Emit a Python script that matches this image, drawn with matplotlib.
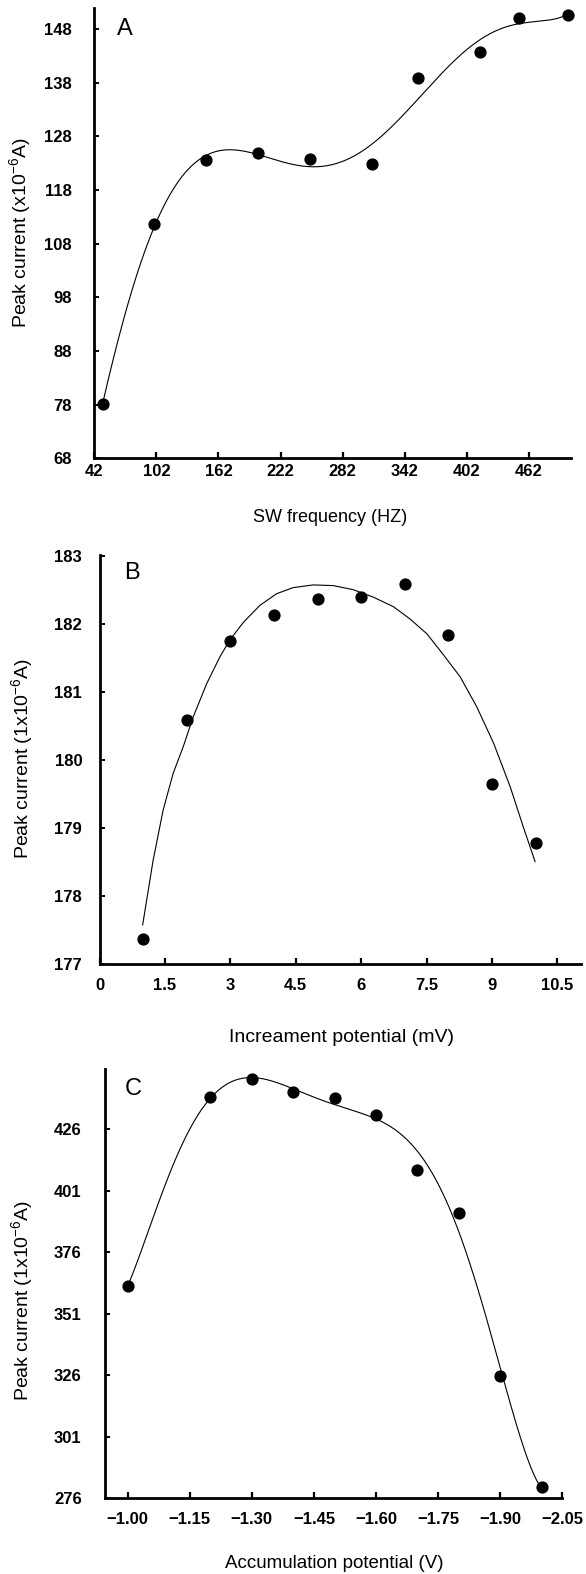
import numpy as np
import matplotlib
matplotlib.use("Agg")
import matplotlib.pyplot as plt

plt.rcParams['font.family'] = ['Liberation Sans', 'DejaVu Sans']
plt.rcParams['mathtext.default'] = 'regular'

# ---------------- data ----------------
# Panel A: SW frequency
freq_a = [50, 100, 150, 200, 250, 310, 355, 415, 452, 500]
current_a = [78.1, 111.6, 123.6, 125.0, 123.8, 122.8, 138.9, 143.7, 150.1, 150.7]
xticks_a = [42, 102, 162, 222, 282, 342, 402, 462]
yticks_a = [68, 78, 88, 98, 108, 118, 128, 138, 148]

# Panel B: increment potential
incr_b = [1, 2, 3, 4, 5, 6, 7, 8, 9, 10]
current_b = [177.37, 180.59, 181.76, 182.14, 182.37, 182.40, 182.60, 181.84, 179.65, 178.79]
# fitted curve
curve_x_b = [0.99, 1.23, 1.46, 1.69, 1.92, 2.15, 2.46, 2.76, 2.99, 3.30, 3.68,
             4.06, 4.44, 4.90, 5.36, 5.82, 6.28, 6.74, 7.12, 7.51, 7.89, 8.27,
             8.65, 9.04, 9.42, 9.72, 9.99]
curve_y_b = [177.58, 178.53, 179.27, 179.81, 180.20, 180.64, 181.13, 181.52,
             181.77, 182.03, 182.28, 182.45, 182.54, 182.58, 182.57, 182.51,
             182.40, 182.26, 182.08, 181.86, 181.55, 181.23, 180.79, 180.25,
             179.61, 179.02, 178.51]
xticks_b = [0, 1.5, 3, 4.5, 6, 7.5, 9, 10.5]
xticklabels_b = ["0", "1.5", "3", "4.5", "6", "7.5", "9", "10.5"]
yticks_b = [177, 178, 179, 180, 181, 182, 183]

# Panel C: accumulation potential
accum_c = [-1.0, -1.2, -1.3, -1.4, -1.5, -1.6, -1.7, -1.8, -1.9, -2.0]
current_c = [362.1, 439.1, 446.3, 440.9, 438.6, 431.8, 409.5, 391.8, 325.8, 280.5]
xticks_c = [-1.00, -1.15, -1.30, -1.45, -1.60, -1.75, -1.90, -2.05]
yticks_c = [276, 301, 326, 351, 376, 401, 426]

W, H = 586, 1574
fig = plt.figure(figsize=(W / 100, H / 100), dpi=100)


def px_axes(l, r, t, b):
    return fig.add_axes([l / W, 1 - b / H, (r - l) / W, (b - t) / H])


def style(ax, xpad, ypad):
    for s in ('top', 'right'):
        ax.spines[s].set_visible(False)
    for s in ('left', 'bottom'):
        ax.spines[s].set_linewidth(2.0)
    ax.tick_params(axis='x', direction='in', length=4.5, width=1.6,
                   labelsize=12, pad=xpad)
    ax.tick_params(axis='y', direction='in', length=3.5, width=1.4,
                   labelsize=12, pad=ypad)
    for lab in ax.get_xticklabels() + ax.get_yticklabels():
        lab.set_fontweight('bold')


def dots(ax, x, y):
    ax.plot(x, y, 'o', color='black', ms=7.8, zorder=3, clip_on=False)


def trend(ax, x, y, deg):
    coef = np.polyfit(x, y, deg)
    xs = np.linspace(min(x), max(x), 300)
    ax.plot(xs, np.polyval(coef, xs), color='black', lw=0.8, zorder=2)


# ---------------- Panel A ----------------
axA = px_axes(94.3, 570.7, 8.3, 458.3)
trend(axA, freq_a, current_a, 6)
dots(axA, freq_a, current_a)
axA.set_xlim(42, 502.4)
axA.set_ylim(68, 151.9)
axA.set_xticks(xticks_a)
axA.set_yticks(yticks_a)
style(axA, 4, 16)

# ---------------- Panel B ----------------
axB = px_axes(99.5, 581.3, 555, 964.3)
axB.plot(curve_x_b, curve_y_b, color='black', lw=0.8, zorder=2)
dots(axB, incr_b, current_b)
axB.set_xlim(0, 11.05)
axB.set_ylim(177, 183.02)
axB.set_xticks(xticks_b)
axB.set_xticklabels(xticklabels_b)
axB.set_yticks(yticks_b)
style(axB, 10, 12.5)

# ---------------- Panel C ----------------
axC = px_axes(105.3, 562.3, 1069, 1498.3)
trend(axC, accum_c, current_c, 6)
dots(axC, accum_c, current_c)
axC.set_xlim(-0.946, -2.05)
axC.set_ylim(276, 450.4)
axC.set_xticks(xticks_c)
axC.set_xticklabels(["\u2212%.2f" % abs(v) for v in xticks_c])
axC.set_yticks(yticks_c)
style(axC, 10, 17)


def ftext(x, y, s, **kw):
    fig.text(x / W, 1 - y / H, s, ha='center', va='center', **kw)


ftext(125, 29.3, 'A', fontsize=17)
ftext(131.7, 573.3, 'B', fontsize=17)
ftext(133.3, 1089, 'C', fontsize=17)

ftext(20, 233, r'Peak current (x10$^{-6}$A)', rotation=90, fontsize=14)
ftext(21.7, 758, r'Peak current (1x10$^{-6}$A)', rotation=90, fontsize=14)
ftext(21.7, 1300, r'Peak current (1x10$^{-6}$A)', rotation=90, fontsize=14)

ftext(330, 518, 'SW frequency (HZ)', fontsize=13)
ftext(341.5, 1037, 'Increament potential (mV)', fontsize=14)
ftext(334.5, 1564, 'Accumulation potential (V)', fontsize=13.5)

fig.savefig('out.png', dpi=100)
